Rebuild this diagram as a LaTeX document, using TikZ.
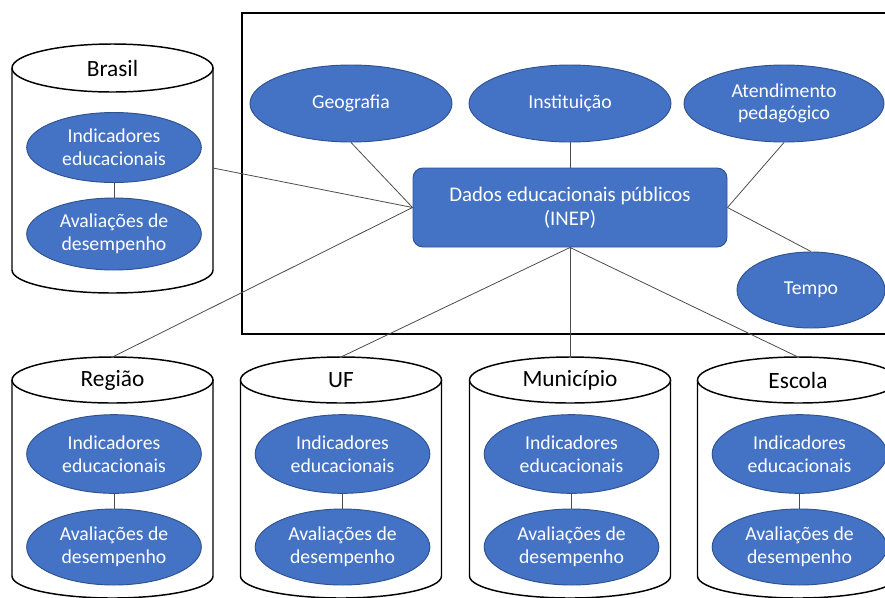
\documentclass[tikz,border=0pt]{standalone}
\usepackage{fontspec}
\setmainfont{Carlito}
\usetikzlibrary{shapes.geometric}
\definecolor{officeblue}{HTML}{4472C4}
\definecolor{officeedge}{HTML}{2F528F}

\begin{document}
\begin{tikzpicture}[x=0.75pt, y=-0.75pt,
    blob/.style={ellipse, draw=officeedge, fill=officeblue, text=white, line width=0.7pt,
      align=center, inner sep=0pt, font=\fontsize{14.8}{17}\selectfont},
    dimblob/.style={blob, minimum width=151.5pt, minimum height=57.75pt},
    inblob/.style={blob, minimum width=131pt, minimum height=#1},
    cyl/.style={draw=black, line width=1.1pt, fill=white},
    cyllabel/.style={font=\fontsize{17.5}{20}\selectfont, inner sep=1pt},
    link/.style={draw=black!70, line width=0.6pt}]
  \useasboundingbox (0,0) rectangle (885,597);
  % moldura dos dados publicos
  \draw[line width=2pt] (242,13) rectangle (889,334);

  % cilindro Brasil
  \draw[cyl] (12,68) -- (12,270) arc[start angle=180, end angle=0, x radius=100.5, y radius=23] -- (213,68);
  \draw[cyl] (112.5,68) ellipse [x radius=100.5, y radius=24];
  \node[cyllabel] (brasil) at (112.5,68) {Brasil};
  \coordinate (brasil side) at (213,168);
  \node[inblob=52.5pt] (brasil ind) at (114,147.5) {Indicadores\\educacionais};
  \node[inblob=54pt] (brasil aval) at (114,234) {Avaliações de\\desempenho};
  \draw[link] (brasil ind) -- (brasil aval);

  % cilindro Regiao
  \draw[cyl] (12,380) -- (12,576) arc[start angle=180, end angle=0, x radius=100.5, y radius=22] -- (213,380);
  \draw[cyl] (112.5,380) ellipse [x radius=100.5, y radius=23];
  \node[cyllabel] (regiao) at (112.5,380) {Região};
  \coordinate (regiao top) at (112.5,357);
  \node[inblob=59pt] (regiao ind) at (114,454) {Indicadores\\educacionais};
  \node[inblob=57pt] (regiao aval) at (114,547) {Avaliações de\\desempenho};
  \draw[link] (regiao ind) -- (regiao aval);

  % cilindro UF
  \draw[cyl] (240.5,380) -- (240.5,576) arc[start angle=180, end angle=0, x radius=100.5, y radius=22] -- (441.5,380);
  \draw[cyl] (341,380) ellipse [x radius=100.5, y radius=23];
  \node[cyllabel] (uf) at (341,380) {UF};
  \coordinate (uf top) at (341,357);
  \node[inblob=59pt] (uf ind) at (342.5,454) {Indicadores\\educacionais};
  \node[inblob=57pt] (uf aval) at (342.5,547) {Avaliações de\\desempenho};
  \draw[link] (uf ind) -- (uf aval);

  % cilindro Municipio
  \draw[cyl] (469.5,380) -- (469.5,576) arc[start angle=180, end angle=0, x radius=100.5, y radius=22] -- (670.5,380);
  \draw[cyl] (570,380) ellipse [x radius=100.5, y radius=23];
  \node[cyllabel] (municipio) at (570,380) {Município};
  \coordinate (municipio top) at (570,357);
  \node[inblob=59pt] (municipio ind) at (571.5,454) {Indicadores\\educacionais};
  \node[inblob=57pt] (municipio aval) at (571.5,547) {Avaliações de\\desempenho};
  \draw[link] (municipio ind) -- (municipio aval);

  % cilindro Escola
  \draw[cyl] (697.5,380) -- (697.5,576) arc[start angle=180, end angle=0, x radius=100.5, y radius=22] -- (898.5,380);
  \draw[cyl] (798,380) ellipse [x radius=100.5, y radius=23];
  \node[cyllabel] (escola) at (798,380) {Escola};
  \coordinate (escola top) at (798,357);
  \node[inblob=59pt] (escola ind) at (799.5,454) {Indicadores\\educacionais};
  \node[inblob=57pt] (escola aval) at (799.5,547) {Avaliações de\\desempenho};
  \draw[link] (escola ind) -- (escola aval);

  % dimensoes
  \node[draw=officeedge, fill=officeblue, text=white, line width=0.7pt, rounded corners=7.5pt,
    minimum width=235.5pt, minimum height=59.25pt, align=center,
    font=\fontsize{15.6}{18}\selectfont] (dados) at (570,207.5) {Dados educacionais públicos\\(INEP)};
  \node[dimblob] (geo) at (351,103.5) {Geografia};
  \node[dimblob] (inst) at (570,103.5) {Instituição};
  \node[dimblob, minimum width=150pt] (atend) at (784,103.5) {Atendimento\\pedagógico};
  \node[blob, minimum width=111pt, minimum height=57pt] (tempo) at (811,290) {Tempo};

  % ligacoes
  \draw[link] (geo.south) -- (dados.west);
  \draw[link] (inst.south) -- (dados.north);
  \draw[link] (atend.south) -- (dados.east);
  \draw[link] (dados.east) -- (tempo.north);
  \draw[link] (brasil side) -- (dados.west);
  \draw[link] (dados.west) -- (regiao top);
  \draw[link] (dados.south) -- (uf top);
  \draw[link] (dados.south) -- (municipio top);
  \draw[link] (dados.south) -- (escola top);
\end{tikzpicture}
\end{document}
